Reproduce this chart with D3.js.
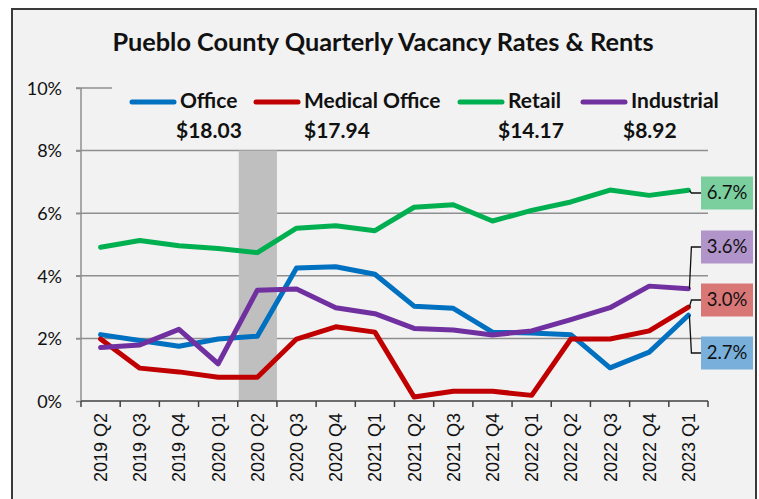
<!DOCTYPE html>
<html><head><meta charset="utf-8">
<script src="https://cdn.jsdelivr.net/npm/d3@7"></script>
<style>html,body{margin:0;padding:0;background:#fff;}svg{display:block;}</style>
</head><body>
<script>
const categories = ["2019 Q2","2019 Q3","2019 Q4","2020 Q1","2020 Q2","2020 Q3","2020 Q4","2021 Q1","2021 Q2","2021 Q3","2021 Q4","2022 Q1","2022 Q2","2022 Q3","2022 Q4","2023 Q1"];
const office     = [2.12,1.93,1.75,1.98,2.07,4.25,4.29,4.05,3.03,2.96,2.20,2.17,2.12,1.06,1.56,2.74];
const medical    = [1.98,1.05,0.93,0.76,0.76,1.98,2.37,2.20,0.13,0.31,0.31,0.18,1.98,1.98,2.24,3.00];
const retail     = [4.91,5.13,4.96,4.87,4.74,5.52,5.60,5.44,6.19,6.27,5.75,6.09,6.36,6.74,6.57,6.73];
const industrial = [1.71,1.79,2.29,1.19,3.54,3.58,2.98,2.79,2.32,2.27,2.11,2.24,2.60,2.98,3.67,3.59];
const seriesNames = ["Office","Medical Office","Retail","Industrial"];
const rents = ["$18.03","$17.94","$14.17","$8.92"];
const yTicks = [0,2,4,6,8,10];
const shadedCategory = "2020 Q2";
const shadedTop = 8;
const title = "Pueblo County Quarterly Vacancy Rates & Rents";

const W = 759, H = 499;
const colors = ["#0070C0","#C00000","#00B050","#7030A0"];
const boxFills = ["#79B0DB","#D97777","#7BCF9E","#B194C9"];
const values = [office, medical, retail, industrial];

const svg = d3.select("body").append("svg").attr("width", W).attr("height", H);
svg.append("rect").attr("x",0).attr("y",0).attr("width",W).attr("height",H).attr("fill","#fff");
svg.append("rect").attr("x",12).attr("y",9).attr("width",744).attr("height",500)
  .attr("fill","#F2F2F2").attr("stroke","#3a3a3a").attr("stroke-width",2);

const x = d3.scaleBand().domain(categories).range([81,708]).padding(0);
const y = d3.scaleLinear().domain([0,10]).range([401,88]);
const cx = c => x(c) + x.bandwidth()/2;

// gridlines
svg.append("g").selectAll("line").data(yTicks.filter(t=>t>0)).join("line")
  .attr("x1",76).attr("x2",708).attr("y1",d=>y(d)).attr("y2",d=>y(d))
  .attr("stroke","#8f8f8f").attr("stroke-width",1.5);

// shaded band
svg.append("rect").attr("x",x(shadedCategory)+1).attr("width",x.bandwidth()-1)
  .attr("y",y(shadedTop)).attr("height",y(0)-y(shadedTop)).attr("fill","#BFBFBF");

// y axis
const yAxis = d3.axisLeft(y).tickValues(yTicks).tickSize(5).tickFormat(d=>d+"%");
const gy = svg.append("g").attr("transform","translate(81,0)").call(yAxis);
gy.select(".domain").attr("stroke","#8f8f8f").attr("stroke-width",1.5).attr("d","M0,"+y(10)+"V"+y(0));
gy.selectAll(".tick line").attr("stroke","#8f8f8f").attr("stroke-width",1.5);
gy.selectAll(".tick text").attr("x",-19).attr("dy","0.35em")
  .attr("font-family","Lato, 'Open Sans', sans-serif").attr("font-size",18).attr("fill","#111");

// x axis
const xAxis = d3.axisBottom(x).tickSize(0).tickSizeOuter(0);
const gx = svg.append("g").attr("transform","translate(0,401)").call(xAxis);
gx.select(".domain").attr("stroke","#404040").attr("stroke-width",1.5).attr("d","M81,0H708");
gx.selectAll(".tick text").attr("transform","rotate(-90)").attr("text-anchor","end")
  .attr("x",-12).attr("y",0).attr("dy","0.36em")
  .attr("font-family","'Liberation Sans', Arial, sans-serif").attr("font-size",18).attr("fill","#111");
// boundary ticks
const bounds = categories.map(c=>x(c)).concat([x(categories[categories.length-1])+x.bandwidth()]);
svg.append("g").selectAll("line").data(bounds).join("line")
  .attr("x1",d=>d).attr("x2",d=>d).attr("y1",401).attr("y2",407)
  .attr("stroke","#404040").attr("stroke-width",1.5);

// lines
const line = d3.line().x((d,i)=>cx(categories[i])).y(d=>y(d));
values.forEach((v,k)=>{
  svg.append("path").datum(v).attr("d",line).attr("fill","none")
    .attr("stroke",colors[k]).attr("stroke-width",5).attr("stroke-linejoin","round").attr("stroke-linecap","round");
});

// legend background (covers 10% gridline)
svg.append("rect").attr("x",112).attr("y",80).attr("width",600).attr("height",62).attr("fill","#F2F2F2");
const legendX = [130,254,458,581];
const rentX = [176,304,498,623];
seriesNames.forEach((n,k)=>{
  svg.append("line").attr("x1",legendX[k]+2).attr("x2",legendX[k]+44).attr("y1",102).attr("y2",102)
    .attr("stroke",colors[k]).attr("stroke-width",5).attr("stroke-linecap","round");
  svg.append("text").attr("x",legendX[k]+50).attr("y",108).text(n)
    .attr("font-family","Lato, 'Open Sans', sans-serif").attr("font-weight","bold").attr("font-size",21).attr("fill","#111");
  svg.append("text").attr("x",rentX[k]).attr("y",138).text(rents[k])
    .attr("font-family","Lato, 'Open Sans', sans-serif").attr("font-weight","bold").attr("font-size",21).attr("fill","#111");
});

// title
svg.append("text").attr("x",383).attr("y",51).attr("text-anchor","middle").text(title)
  .attr("font-family","Lato, 'Open Sans', sans-serif").attr("font-weight","bold").attr("font-size",25.3).attr("fill","#111");

// end labels
const boxYc = [353,300,193,247];
const fmt = d3.format(".1f");
values.forEach((v,k)=>{
  const last = v[v.length-1];
  const px = cx(categories[categories.length-1]);
  const py = y(last);
  const by = boxYc[k];
  svg.append("path").attr("d",d3.line()([[px+1,py],[px+3,by],[701,by]]))
    .attr("fill","none").attr("stroke","#111").attr("stroke-width",1.3);
  svg.append("rect").attr("x",701).attr("y",by-16.5).attr("width",52).attr("height",33).attr("fill",boxFills[k]);
  svg.append("text").attr("x",727).attr("y",by).attr("dy","0.35em").attr("text-anchor","middle")
    .text(fmt(last)+"%").attr("font-family","Lato, 'Open Sans', sans-serif").attr("font-size",18.5).attr("fill","#111");
});
</script>
</body></html>
